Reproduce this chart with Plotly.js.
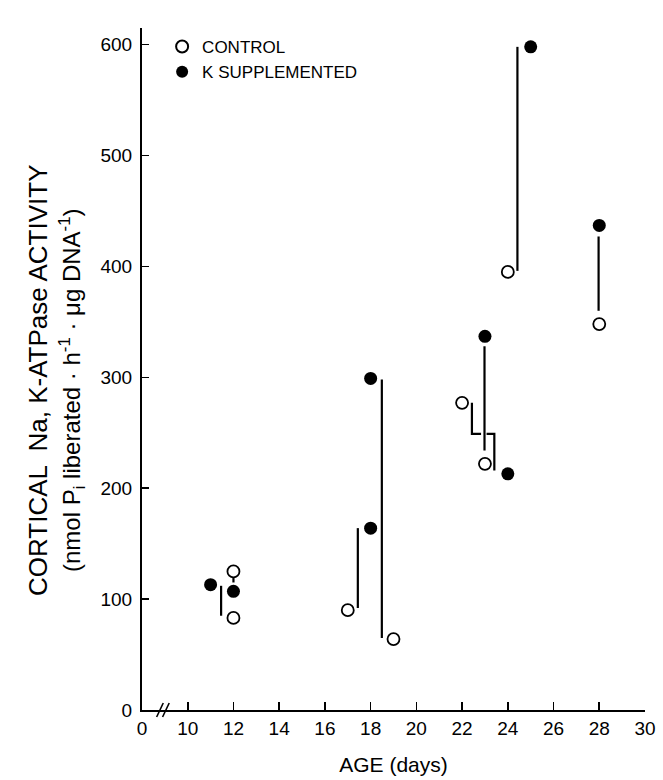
<!DOCTYPE html>
<html>
<head>
<meta charset="utf-8">
<script src="https://cdn.plot.ly/plotly-3.0.1.min.js"></script>
<style>html,body{margin:0;padding:0;background:#fff;}</style>
</head>
<body>
<div id="chart" style="width:663px;height:780px;"></div>
<script>
// ---- data ----
const controlAge = [12, 12, 17, 19, 22, 23, 24, 28];
const controlVal = [125, 83, 90, 64, 277, 222, 395, 348];

const kAge = [11, 12, 18, 18, 23, 24, 25, 28];
const kVal = [113, 107, 299, 164, 337, 213, 598, 437];

// vertical connector bars drawn beside the paired points
const barAge  = [11.46, 12, 17.44, 18.49, 22.98, 24.42, 27.97];
const barLow  = [85, 115, 92, 65, 234, 396, 360];
const barHigh = [112, 119, 164, 298, 328, 598, 427];

// stepped connector around day 22-24
const stepAge = [22.43, 22.43, 22.83, null, 23.07, 23.41, 23.41];
const stepVal = [277, 249, 249, null, 249, 249, 216];

// axis ticks (the "0" sits at the broken start of the age axis)
const xTickVals = [8, 10, 12, 14, 16, 18, 20, 22, 24, 26, 28, 30];
const xTickText = ['0', '10', '12', '14', '16', '18', '20', '22', '24', '26', '28', '30'];
const yTickVals = [0, 100, 200, 300, 400, 500, 600];

const legendNames = ['CONTROL', 'K SUPPLEMENTED'];
const xTitle = 'AGE (days)';
const yTitle1 = 'CORTICAL  Na, K-ATPase ACTIVITY';
const yTitle2 = '(nmol P<sub>i</sub> liberated · h<sup>-1</sup> · μg DNA<sup>-1</sup>)';

// ---- build traces ----
const barX = [], barY = [];
barAge.forEach((a, i) => { barX.push(a, a, null); barY.push(barLow[i], barHigh[i], null); });

const FONT = 'Liberation Sans, Arial, sans-serif';

const traces = [
  {x: barX, y: barY, mode: 'lines', type: 'scatter', showlegend: false, hoverinfo: 'skip',
   line: {color: '#000', width: 2.2}, cliponaxis: false},
  {x: stepAge, y: stepVal, mode: 'lines', type: 'scatter', showlegend: false, hoverinfo: 'skip',
   line: {color: '#000', width: 2.2}, connectgaps: false, cliponaxis: false},
  {x: controlAge, y: controlVal, mode: 'markers', type: 'scatter', name: legendNames[0],
   legendgroup: 'a',
   marker: {symbol: 'circle-open', size: 12, color: '#000', line: {color: '#000', width: 1.8}},
   cliponaxis: false},
  {x: kAge, y: kVal, mode: 'markers', type: 'scatter', name: legendNames[1],
   legendgroup: 'b',
   marker: {symbol: 'circle', size: 13, color: '#000'},
   cliponaxis: false}
];

const Y0PX = 710, TOPPX = 28, H = 780;
const plotH = Y0PX - TOPPX;
const pyToPaper = py => (Y0PX - py) / plotH;

const layout = {
  width: 663, height: 780,
  margin: {l: 142, r: 18, t: TOPPX, b: H - Y0PX},
  paper_bgcolor: '#fff', plot_bgcolor: '#fff',
  font: {family: FONT, color: '#000'},
  showlegend: true,
  legend: {x: 0.04, y: pyToPaper(29), xanchor: 'left', yanchor: 'top',
           font: {family: FONT, size: 17, color: '#000'},
           bgcolor: 'rgba(0,0,0,0)', traceorder: 'grouped', tracegroupgap: 0,
           itemsizing: 'constant'},
  xaxis: {
    range: [8, 30], tickmode: 'array', tickvals: xTickVals, ticktext: xTickText,
    ticks: 'inside', ticklen: 8, tickwidth: 1.6, tickcolor: '#000',
    showline: true, linewidth: 2, linecolor: '#000',
    showgrid: false, zeroline: false, ticklabelstandoff: 0,
    tickfont: {family: FONT, size: 19, color: '#000'},
    title: {text: xTitle, font: {family: FONT, size: 21, color: '#000'}, standoff: 20},
    fixedrange: true
  },
  yaxis: {
    range: [0, 615], tickmode: 'array', tickvals: yTickVals,
    ticks: 'inside', ticklen: 7, tickwidth: 1.6, tickcolor: '#000',
    showline: true, linewidth: 2, linecolor: '#000',
    showgrid: false, zeroline: false, ticklabelstandoff: 4,
    tickfont: {family: FONT, size: 19, color: '#000'},
    fixedrange: true
  },
  annotations: [
    {text: yTitle1, xref: 'paper', yref: 'paper', x: -(142 - 38) / 503, y: pyToPaper(380),
     xanchor: 'center', yanchor: 'middle', textangle: -90, showarrow: false,
     font: {family: FONT, size: 26, color: '#000'}},
    {text: yTitle2, xref: 'paper', yref: 'paper', x: -(142 - 72) / 503, y: pyToPaper(390),
     xanchor: 'center', yanchor: 'middle', textangle: -90, showarrow: false,
     font: {family: FONT, size: 24, color: '#000'}}
  ],
  shapes: [
    // axis break marks "//"
    {type: 'line', xref: 'x', yref: 'paper', x0: 8.64, x1: 8.93, y0: pyToPaper(717), y1: pyToPaper(703),
     line: {color: '#000', width: 1.6}},
    {type: 'line', xref: 'x', yref: 'paper', x0: 8.9, x1: 9.19, y0: pyToPaper(717), y1: pyToPaper(703),
     line: {color: '#000', width: 1.6}}
  ]
};

Plotly.newPlot('chart', traces, layout, {displayModeBar: false, staticPlot: true});
</script>
</body>
</html>
